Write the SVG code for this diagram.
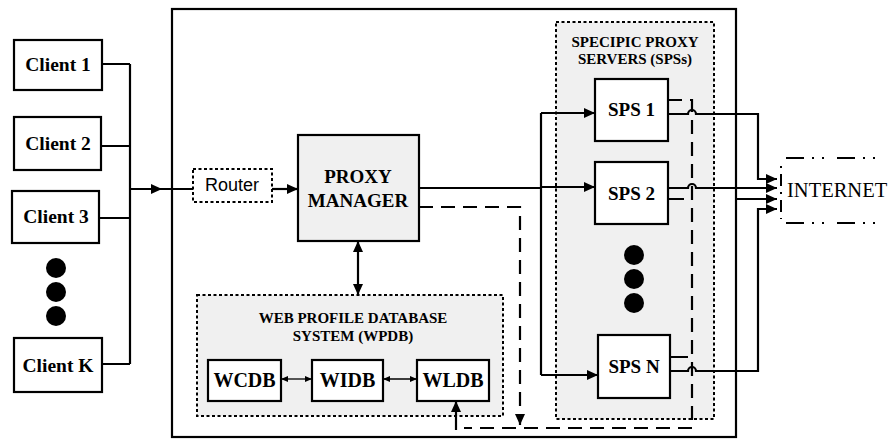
<svg xmlns="http://www.w3.org/2000/svg" width="888" height="439" viewBox="0 0 888 439">
<style>
.box{fill:#fff;stroke:#000;stroke-width:2.2}
.gray{fill:#f0f0f0;stroke:#000;stroke-width:2.2}
.dot{fill:#f0f0f0;stroke:#000;stroke-width:2;stroke-dasharray:3,2.5}
.t{font-family:"Liberation Serif","Times New Roman",serif;font-weight:bold;text-anchor:middle;fill:#000}
.ln{fill:none;stroke:#000;stroke-width:2.2}
.thin{fill:none;stroke:#000;stroke-width:1.3}
.dash{fill:none;stroke:#000;stroke-width:2.2;stroke-dasharray:14,8}
.bul{fill:#000}
</style>
<defs>
<marker id="ah" markerUnits="userSpaceOnUse" markerWidth="11" markerHeight="10" refX="11" refY="5" orient="auto-start-reverse"><path d="M0,0 L11,5 L0,10 z" fill="#000"/></marker>
<marker id="ahs" markerUnits="userSpaceOnUse" markerWidth="7" markerHeight="6" refX="7" refY="3" orient="auto-start-reverse"><path d="M0,0 L7,3 L0,6 z" fill="#000"/></marker>
</defs>

<rect x="172" y="9" width="564" height="428" fill="#fff" stroke="#000" stroke-width="2.2"/>

<g id="clients">
<g id="client1"><rect class="box" x="14" y="40" width="88" height="50"/><text class="t" x="58" y="71" font-size="19.5">Client 1</text></g>
<g id="client2"><rect class="box" x="14" y="117" width="87" height="53"/><text class="t" x="58" y="150" font-size="19.5">Client 2</text></g>
<g id="client3"><rect class="box" x="12" y="191" width="87" height="52"/><text class="t" x="56" y="223" font-size="19.5">Client 3</text></g>
<g id="clientdots"><circle class="bul" cx="56" cy="268" r="10"/><circle class="bul" cx="56" cy="292" r="10"/><circle class="bul" cx="56" cy="316" r="10"/></g>
<g id="clientK"><rect class="box" x="14" y="338" width="88" height="54"/><text class="t" x="58" y="372" font-size="19.5">Client K</text></g>
</g>

<g id="router"><rect x="193" y="169" width="79" height="33" fill="#fff" stroke="#000" stroke-width="2" stroke-dasharray="3,2.5"/><text x="232" y="191" font-family="Liberation Sans, Arial, sans-serif" font-size="18" text-anchor="middle">Router</text></g>

<g id="proxymanager"><rect class="gray" x="298" y="135" width="121" height="106"/><text class="t" x="358" y="183" font-size="19">PROXY</text><text class="t" x="358" y="207" font-size="19">MANAGER</text></g>

<g id="wpdb"><rect class="dot" x="197" y="295" width="306" height="121"/><text class="t" x="353" y="323" font-size="15">WEB PROFILE DATABASE</text><text class="t" x="353" y="341" font-size="15">SYSTEM (WPDB)</text>
<g id="wcdb"><rect class="box" x="208" y="360" width="73" height="41"/><text class="t" x="244.5" y="387" font-size="20">WCDB</text></g>
<g id="widb"><rect class="box" x="312" y="360" width="71" height="41"/><text class="t" x="347.5" y="387" font-size="20">WIDB</text></g>
<g id="wldb"><rect class="box" x="417" y="360" width="72" height="41"/><text class="t" x="453" y="387" font-size="20">WLDB</text></g>
</g>

<g id="sps"><rect class="dot" x="556" y="22" width="158" height="397"/><text class="t" x="635" y="47" font-size="15">SPECIPIC PROXY</text><text class="t" x="635" y="64" font-size="15">SERVERS (SPSs)</text>
<g id="sps1"><rect class="box" x="595" y="79" width="73" height="62"/><text class="t" x="631.5" y="116" font-size="19">SPS 1</text></g>
<g id="sps2"><rect class="box" x="595" y="162" width="73" height="62"/><text class="t" x="631.5" y="200" font-size="19">SPS 2</text></g>
<g id="spsdots"><circle class="bul" cx="634" cy="255" r="10"/><circle class="bul" cx="634" cy="279" r="10"/><circle class="bul" cx="634" cy="303" r="10"/></g>
<g id="spsN"><rect class="box" x="598" y="335" width="72" height="63"/><text class="t" x="634" y="373" font-size="19">SPS N</text></g>
</g>

<g id="internet"><text x="787" y="197" font-family="Liberation Serif, Times New Roman, serif" font-size="20.5">INTERNET</text>
<path d="M786,158 H888 M786,223 H888" fill="none" stroke="#000" stroke-width="2" stroke-dasharray="18,8,2,8,2,13"/>
<path d="M781,166 V219" fill="none" stroke="#000" stroke-width="2" stroke-dasharray="2,6,12,6"/></g>

<g id="connectors">
<path class="ln" d="M102,64 H130 M101,146 H130 M99,218 H130 M102,364 H130 M130,64 V364"/>
<path class="ln" d="M130,189 H162 H193" marker-mid="url(#ah)"/>
<path class="ln" d="M272,189 H298" marker-end="url(#ah)"/>
<path class="ln" d="M419,188 H541 M541,113 V375"/>
<path class="ln" d="M541,113 H595" marker-end="url(#ah)"/>
<path class="ln" d="M541,187 H595" marker-end="url(#ah)"/>
<path class="ln" d="M541,375 H598" marker-end="url(#ah)"/>
<path class="ln" d="M358,241 V295" marker-start="url(#ah)" marker-end="url(#ah)"/>
<path class="thin" d="M281,379 H312" marker-start="url(#ahs)" marker-end="url(#ahs)"/>
<path class="thin" d="M383,379 H417" marker-start="url(#ahs)" marker-end="url(#ahs)"/>
<path class="dash" d="M419,207 H520 V425" marker-end="url(#ah)"/>
<path class="dash" d="M668,100 H692 V428 H464"/>
<path class="ln" d="M456,430 V401" marker-end="url(#ah)"/>
<path class="ln" d="M668,199 H684 M670,357 H688"/>
<path class="ln" d="M668,114 H688 a4,4 0 0 1 8,0 H758 V179 H777" marker-end="url(#ah)"/>
<path class="ln" d="M668,188 H688 a4,4 0 0 1 8,0 H777" marker-end="url(#ah)"/>
<path class="ln" d="M737,199 H777" marker-end="url(#ah)"/>
<path class="ln" d="M670,371 H688 a4,4 0 0 1 8,0 H758 V209 H777" marker-end="url(#ah)"/>
</g>
</svg>
